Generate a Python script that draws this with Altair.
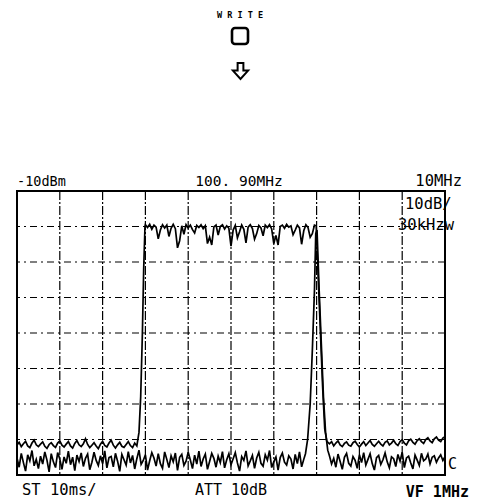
import altair as alt
import pandas as pd

# ---------------- data (x in divisions 0..10, y in dBm) ----------------
STEP = 0.05

# Trace A (upper, "write"): noise left, channel plateau, noise right
a_left_x0 = 0.0
a_left = [-81.5, -80.8, -82.0, -81.2, -80.5, -81.8, -82.3, -81.0, -80.2, -81.5,
          -82.0, -81.3, -80.7, -81.9, -82.5, -81.4, -80.9, -81.7, -82.2, -81.0,
          -80.4, -81.6, -82.1, -81.3, -80.6, -81.8, -82.4, -81.1, -80.3, -81.5,
          -82.0, -81.2, -79.8, -81.4, -82.3, -81.6, -80.9, -81.8, -82.6, -81.3,
          -80.5, -81.7, -82.1, -81.0, -80.2, -81.6, -82.4, -81.5, -80.8, -81.9,
          -82.2, -81.4, -80.6, -81.7, -82.3, -81.0]
a_rise_x = [2.80, 2.85, 2.89, 2.93, 2.96, 2.99]
a_rise_y = [-81.8, -78.0, -68.0, -50.0, -32.0, -20.0]
a_top_x0 = 3.0
a_top = [-19.5, -20.3, -19.4, -20.8, -19.6, -20.2, -23.5, -21.0, -19.5, -20.4,
         -19.6, -22.8, -20.5, -19.4, -20.6, -26.0, -24.0, -19.8, -22.2, -19.5,
         -20.4, -19.6, -20.9, -21.8, -19.7, -20.3, -19.5, -20.6, -19.8, -24.8,
         -23.0, -25.2, -20.1, -19.6, -22.4, -20.0, -19.5, -20.7, -19.8, -20.5,
         -25.5, -21.0, -19.7, -23.2, -21.5, -19.6, -20.8, -24.6, -20.2, -19.5,
         -20.6, -23.6, -22.0, -19.7, -20.4, -22.6, -19.6, -20.3, -19.5, -20.7,
         -24.8, -22.5, -25.2, -20.0, -19.6, -20.5, -19.4, -20.2, -19.8, -22.3,
         -21.0, -19.6, -20.4, -25.0, -21.2, -19.5, -20.3, -23.0, -22.0, -19.6]
a_fall_x = [6.99, 7.04, 7.09, 7.14, 7.19, 7.24]
a_fall_y = [-19.8, -35.0, -50.0, -65.0, -77.0, -80.5]
a_right_x0 = 7.30
a_right = [-81.2, -80.6, -81.8, -81.0, -80.4, -81.5, -82.0, -81.1, -80.7, -81.6,
           -81.9, -80.9, -80.5, -81.4, -82.1, -81.3, -80.6, -81.7, -81.0, -80.3,
           -81.4, -81.9, -81.2, -80.5, -81.3, -81.8, -80.8, -80.4, -81.5, -81.0,
           -80.2, -81.2, -81.7, -80.6, -80.1, -81.0, -81.5, -80.4, -79.9, -80.8,
           -81.3, -80.3, -79.8, -80.6, -81.1, -80.0, -79.5, -80.4, -80.9, -79.8,
           -79.3, -80.2, -80.6, -79.6, -79.2]

# Trace B (lower, live): noise, narrow rise at the upper band edge, noise
b_left_x0 = 0.0
b_left = [-85.2, -87.8, -83.9, -86.5, -88.9, -84.3, -86.0, -83.1, -87.4, -85.6,
          -88.2, -84.7, -86.9, -83.5, -85.8, -89.1, -84.0, -86.3, -87.9, -83.7,
          -85.5, -88.4, -84.9, -86.7, -83.3, -87.1, -85.0, -88.8, -84.4, -86.2,
          -83.8, -87.6, -85.3, -84.1, -88.5, -86.4, -83.6, -85.9, -87.3, -84.6,
          -86.8, -83.2, -88.0, -85.1, -84.8, -87.7, -83.9, -86.1, -89.0, -84.2,
          -85.7, -87.2, -83.4, -86.6, -84.5, -88.3, -85.4, -83.0, -87.0, -85.9,
          -84.3, -88.6, -86.0, -83.7, -85.2, -87.5, -84.0, -86.8, -88.1, -83.5,
          -85.6, -87.9, -84.6, -86.3, -83.8, -88.7, -85.0, -84.2, -87.3, -86.1,
          -83.6, -85.8, -88.2, -84.4, -86.9, -83.3, -87.6, -85.5, -84.1, -88.4,
          -86.2, -83.9, -85.3, -87.8, -84.7, -86.5, -83.4, -88.0, -85.7, -84.0,
          -87.1, -85.4, -83.7, -86.6, -88.9, -84.8, -85.9, -83.2, -87.4, -86.0,
          -84.5, -88.1, -85.2, -83.6, -86.7, -87.5, -84.3, -85.8, -83.1, -87.9,
          -86.3, -84.9, -88.6, -85.1, -83.8, -86.4, -87.2, -84.6, -85.5, -88.3,
          -84.2, -86.8, -83.5, -87.7, -85.6]
b_edge_x = [6.74, 6.79, 6.85, 6.90, 6.95, 6.98, 7.01, 7.06, 7.11, 7.16, 7.21, 7.26]
b_edge_y = [-84.0, -80.0, -70.0, -55.0, -38.0, -22.0, -21.0, -38.0, -53.0, -68.0, -78.0, -83.0]
b_right_x0 = 7.30
b_right = [-84.6, -86.9, -85.3, -87.8, -84.1, -86.2, -88.4, -85.0, -83.9, -86.7,
           -87.5, -84.8, -85.9, -88.1, -84.3, -86.5, -83.7, -87.2, -85.6, -84.0,
           -86.8, -88.6, -85.1, -84.5, -87.0, -85.7, -83.8, -86.3, -88.0, -84.9,
           -85.4, -87.6, -84.2, -86.1, -83.6, -87.9, -85.2, -84.7, -86.6, -88.3,
           -84.4, -85.8, -87.3, -83.9, -86.0, -85.5, -84.1, -86.9, -85.0, -84.6,
           -86.4, -85.2, -84.3, -85.9, -84.8]

grid_x = [1, 2, 3, 4, 5, 6, 7, 8, 9]
grid_y = [-20, -30, -40, -50, -60, -70, -80]

# screen annotations
ref_level = "-10dBm"
center_freq = "100. 90MHz"
span = "10MHz"
scale_txt = "10dB/"
rbw_txt = "30kHzw"
sweep_txt = "ST 10ms/"
att_txt = "ATT 10dB"
vf_txt = "VF 1MHz"
write_txt = "W R I T E"

# ---------------- build tables ----------------
def run(x0, vals):
    return [(round(x0 + STEP * i, 3), v) for i, v in enumerate(vals)]

pts_a = (run(a_left_x0, a_left) + list(zip(a_rise_x, a_rise_y)) + run(a_top_x0, a_top)
         + list(zip(a_fall_x, a_fall_y)) + run(a_right_x0, a_right))
pts_b = (run(b_left_x0, b_left) + list(zip(b_edge_x, b_edge_y)) + run(b_right_x0, b_right))

df = pd.DataFrame(
    [{"x": x, "y": y, "trace": "A", "i": k} for k, (x, y) in enumerate(pts_a)]
    + [{"x": x, "y": y, "trace": "B", "i": k} for k, (x, y) in enumerate(pts_b)]
)

W, H = 428, 284
xs = alt.Scale(domain=[0, 10], nice=False, zero=False)
ys = alt.Scale(domain=[-90, -10], nice=False, zero=False)

vgrid = alt.Chart(pd.DataFrame({"g": grid_x})).mark_rule(
    color="black", strokeWidth=1.2, strokeDash=[9, 2, 2, 2]
).encode(x=alt.X("g:Q", scale=xs, axis=None))

hgrid = alt.Chart(pd.DataFrame({"g": grid_y})).mark_rule(
    color="black", strokeWidth=1.1, strokeDash=[7, 4, 2, 4]
).encode(y=alt.Y("g:Q", scale=ys, axis=None))

traces = alt.Chart(df).mark_line(color="black", strokeWidth=1.7, strokeJoin="miter").encode(
    x=alt.X("x:Q", scale=xs, axis=None),
    y=alt.Y("y:Q", scale=ys, axis=None),
    detail="trace:N",
    order="i:Q",
)

FONT = "DejaVu Sans Mono"

def label(txt, px, py, align="left", size=13, weight="normal", font=FONT):
    return alt.Chart(pd.DataFrame({"t": [txt]})).mark_text(
        align=align, baseline="alphabetic", font=font, fontSize=size,
        fontWeight=weight, color="black"
    ).encode(x=alt.value(px), y=alt.value(py), text="t:N")

texts = [
    label(ref_level, 0, -5, size=13.5),
    label(center_freq, 222, -5, align="center", size=14.5),
    label(span, 445, -5, align="right", size=15.5),
    label(scale_txt, 388, 18, size=15.5),
    label(rbw_txt, 381, 39, size=15.5),
    label("C", 431, 278, size=15),
    label(sweep_txt, 5, 304, size=15.5),
    label(att_txt, 214, 304, align="center", size=15),
    label(vf_txt, 452, 306, align="right", size=15, weight="bold"),
    label(write_txt, 223, -173, align="center", size=8.5, weight="bold"),
]

box = alt.Chart(pd.DataFrame({"k": [0]})).mark_rect(
    fill="white", stroke="black", strokeWidth=2.6, cornerRadius=3
).encode(x=alt.value(215), x2=alt.value(231), y=alt.value(-163), y2=alt.value(-147))

ARROW = "M -0.36 -1 L 0.36 -1 L 0.36 -0.05 L 0.95 -0.05 L 0 1 L -0.95 -0.05 L -0.36 -0.05 Z"
arrow = alt.Chart(pd.DataFrame({"k": [0]})).mark_point(
    shape=ARROW, filled=False, stroke="black", strokeWidth=2, opacity=1
).encode(x=alt.value(223.5), y=alt.value(-120), size=alt.value(256))

chart = alt.layer(vgrid, hgrid, traces, box, arrow, *texts).properties(
    width=W, height=H,
    autosize=alt.AutoSizeParams(type="none"),
    padding={"left": 9, "top": 183, "right": 25, "bottom": 25},
    background="white",
).configure_view(stroke="black", strokeWidth=2)

chart.save("out.html", embed_options={"renderer": "svg", "actions": False})
